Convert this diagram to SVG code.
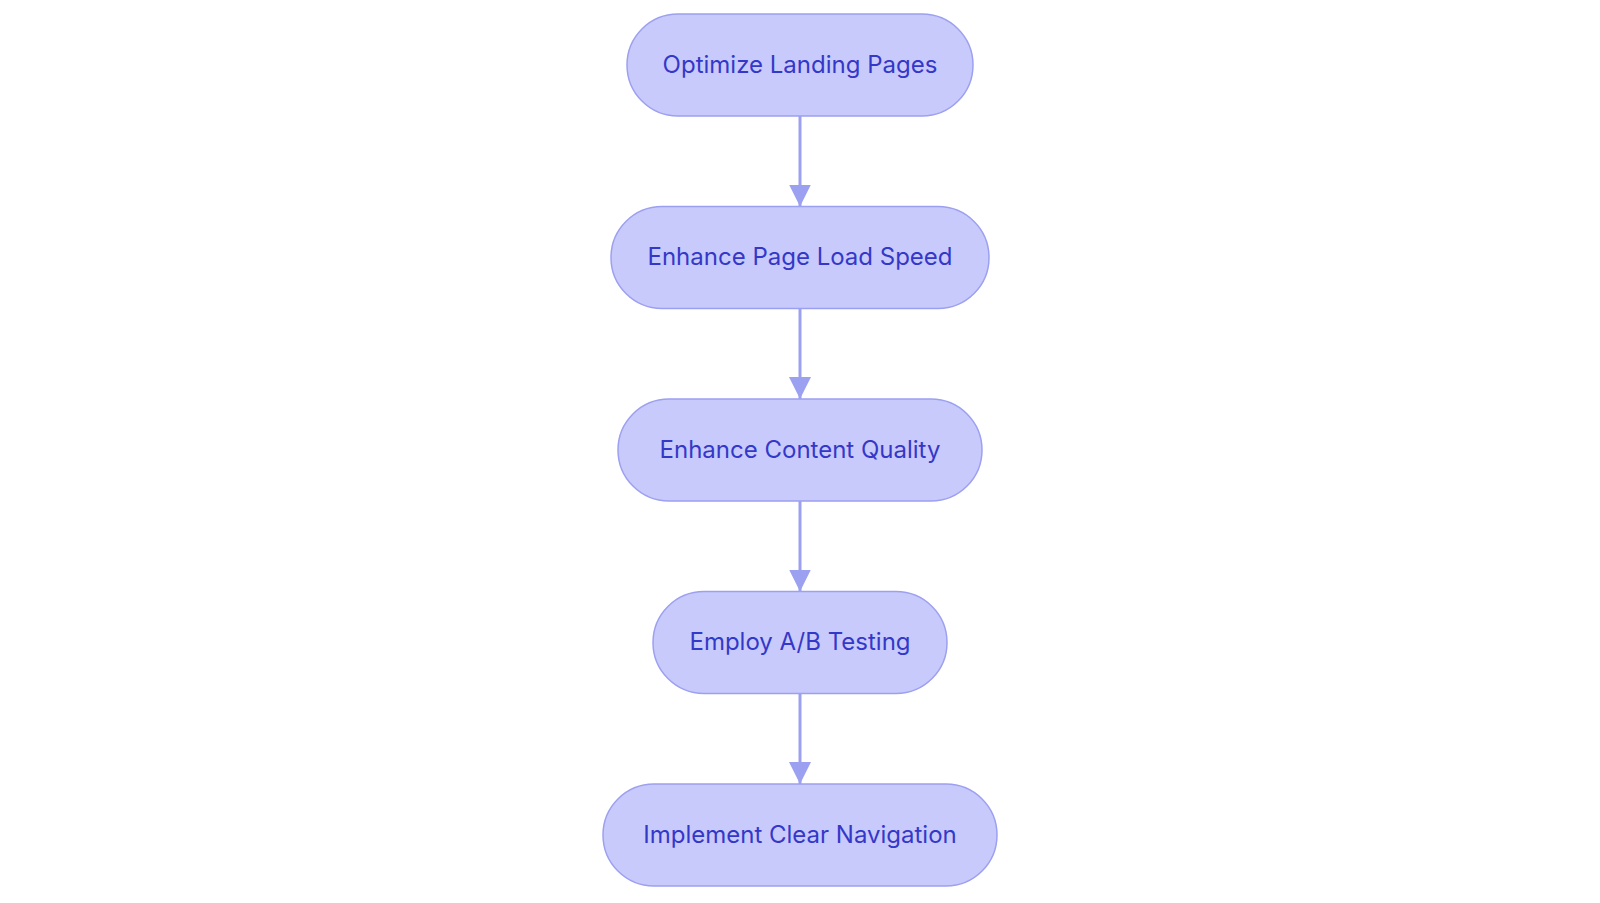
<svg xmlns="http://www.w3.org/2000/svg" width="1600" height="903" viewBox="0 0 1600 903">
<style>
.node rect{fill:#C9CAFC;stroke:#9CA0F0;stroke-width:1.5}
.node text{font-family:Inter,"Noto Sans","Liberation Sans",sans-serif;font-size:24px;fill:#3438C8;text-anchor:middle;dominant-baseline:central}
.edge{stroke:#9CA0F0;stroke-width:3;fill:none}
</style>
<defs>
<marker id="arrow" viewBox="0 0 22 22" refX="22" refY="11" markerWidth="22" markerHeight="22" markerUnits="userSpaceOnUse" orient="auto">
<path d="M0,0 L22,11 L0,22 Z" fill="#9CA0F0"/>
</marker>
</defs>
<rect width="1600" height="903" fill="#FFFFFF"/>
<g id="connectors">
<line class="edge" x1="800" y1="116" x2="800" y2="206.5" marker-end="url(#arrow)"/>
<line class="edge" x1="800" y1="308.5" x2="800" y2="399" marker-end="url(#arrow)"/>
<line class="edge" x1="800" y1="501" x2="800" y2="591.5" marker-end="url(#arrow)"/>
<line class="edge" x1="800" y1="693.5" x2="800" y2="784" marker-end="url(#arrow)"/>
</g>
<g id="n1" class="node"><rect x="627" y="14" width="346" height="102" rx="51"/><text x="800" y="64">Optimize Landing Pages</text></g>
<g id="n2" class="node"><rect x="611" y="206.5" width="378" height="102" rx="51"/><text x="800" y="256.5">Enhance Page Load Speed</text></g>
<g id="n3" class="node"><rect x="618" y="399" width="364" height="102" rx="51"/><text x="800" y="449">Enhance Content Quality</text></g>
<g id="n4" class="node"><rect x="653" y="591.5" width="294" height="102" rx="51"/><text x="800" y="641.5">Employ A/B Testing</text></g>
<g id="n5" class="node"><rect x="603" y="784" width="394" height="102" rx="51"/><text x="800" y="834">Implement Clear Navigation</text></g>
</svg>
